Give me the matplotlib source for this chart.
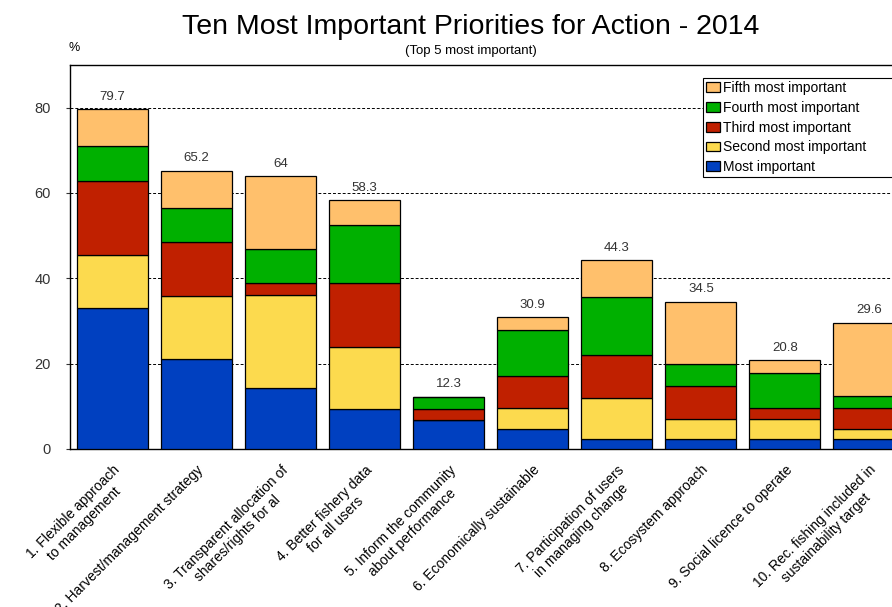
import numpy as np
import matplotlib.pyplot as plt
from matplotlib import font_manager

plt.rcParams['font.family'] = ['Liberation Sans', 'DejaVu Sans']

categorias = [
    "1. Flexible approach\nto management",
    "2. Harvest/management strategy",
    "3. Transparent allocation of\nshares/rights for al",
    "4. Better fishery data\nfor all users",
    "5. Inform the community\nabout performance",
    "6. Economically sustainable",
    "7. Participation of users\nin managing change",
    "8. Ecosystem approach",
    "9. Social licence to operate",
    "10. Rec. fishing included in\nsustainability target",
]

most = [33.1, 21.2, 14.2, 9.4, 6.9, 4.8, 2.4, 2.4, 2.4, 2.4]
second = [12.3, 14.6, 22.0, 14.6, 0.0, 4.7, 9.6, 4.7, 4.7, 2.3]
third = [17.4, 12.6, 2.6, 14.8, 2.5, 7.5, 10.1, 7.6, 2.4, 4.8]
fourth = [8.2, 8.1, 8.1, 13.6, 2.9, 10.9, 13.5, 5.3, 8.2, 2.9]
fifth = [8.7, 8.7, 17.1, 5.9, 0.0, 3.0, 8.7, 14.5, 3.1, 17.2]
totais = [79.7, 65.2, 64, 58.3, 12.3, 30.9, 44.3, 34.5, 20.8, 29.6]

series = [
    ("Most important", most, "#0040C0"),
    ("Second most important", second, "#FCDA4E"),
    ("Third most important", third, "#C02000"),
    ("Fourth most important", fourth, "#00B000"),
    ("Fifth most important", fifth, "#FFC06C"),
]

# fonte estreita para o titulo, se existir
try:
    font_manager.findfont("Liberation Sans Narrow", fallback_to_default=False)
    fonte_titulo, tam_titulo = "Liberation Sans Narrow", 25
except Exception:
    fonte_titulo, tam_titulo = "Liberation Sans", 20.5

fig = plt.figure(figsize=(8.92, 6.07), dpi=100)
W, H = 892, 607
ax = fig.add_axes([70 / W, (H - 449) / H, (911 - 70) / W, (449 - 65) / H])

x = np.arange(len(categorias))
base = np.zeros(len(categorias))
handles = []
for nome, valores, cor in series:
    b = ax.bar(x, valores, 0.845, bottom=base, color=cor,
               edgecolor="black", linewidth=0.9, label=nome, zorder=3)
    handles.append(b)
    base = base + np.array(valores)

for xi, t in zip(x, totais):
    ax.text(xi, t + 1.5, f"{t:g}", ha="center", va="bottom",
            fontsize=9.5, color="#333333")

ax.set_xlim(-0.506, 9.5)
ax.set_ylim(0, 90)
ax.set_yticks([0, 20, 40, 60, 80])
ax.tick_params(axis="y", labelsize=10.5, length=3, pad=11, colors="#333333")
ax.yaxis.grid(True, linestyle=(0, (3, 2)), color="black", linewidth=0.7, zorder=0)
ax.set_axisbelow(True)

ax.set_xticks(x)
ax.set_xticklabels(categorias, rotation=45, ha="right", va="top",
                   rotation_mode="anchor", multialignment="center", fontsize=10)
ax.tick_params(axis="x", length=0, pad=10)

for s in ax.spines.values():
    s.set_color("black")
    s.set_linewidth(1)

leg = ax.legend(handles[::-1], [h.get_label() for h in handles[::-1]],
                loc="upper left", bbox_to_anchor=(0.753, 0.966, 0.228, 0),
                mode="expand", borderaxespad=0, fontsize=10, fancybox=False,
                framealpha=1, edgecolor="black", handlelength=1.0,
                handleheight=0.7, handletextpad=0.2, labelspacing=0.42,
                borderpad=0.2)
leg.get_frame().set_linewidth(0.8)

fig.text(471 / W, 1 - 27 / H, "Ten Most Important Priorities for Action - 2014",
         ha="center", va="center", fontsize=tam_titulo, family=fonte_titulo)
fig.text(471 / W, 1 - 51 / H, "(Top 5 most important)",
         ha="center", va="center", fontsize=9.5)
fig.text(74 / W, 1 - 48 / H, "%", ha="center", va="center", fontsize=9)

fig.savefig("out.png", dpi=100)
